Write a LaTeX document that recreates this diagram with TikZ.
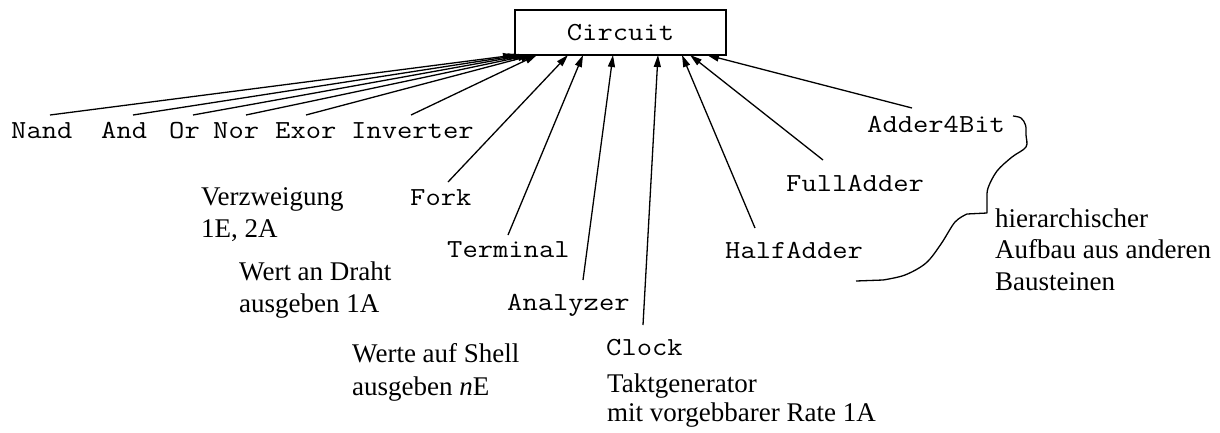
\documentclass[tikz,border=0pt]{standalone}
\usepackage{fontspec}
\setmainfont{Liberation Serif}
\setmonofont[FakeStretch=1.143]{Latin Modern Mono}
\usetikzlibrary{arrows.meta}
\begin{document}
\begin{tikzpicture}[x=1pt,y=-1pt,
  mono/.style={inner sep=0pt,anchor=base west,font=\fontsize{26}{30}\selectfont\ttfamily},
  note/.style={inner sep=0pt,anchor=base west,align=left,font=\fontsize{27}{32}\selectfont},
  conn/.style={line width=1.3pt,-{Triangle[length=12pt,width=7pt]}},
  boxstyle/.style={draw,line width=1.4pt,minimum width=211pt,minimum height=45pt,inner sep=0pt,font=\fontsize{26}{30}\selectfont\ttfamily}]
\useasboundingbox (0,0) rectangle (1220,432);
\node[boxstyle] (circuit) at (620.5,32.5) {Circuit};

\node[mono] (nand) at (11,138) {Nand};
\node[mono] (and) at (101,138) {And};
\node[mono] (or) at (169,138) {Or};
\node[mono] (nor) at (213,138) {Nor};
\node[mono] (exor) at (275,138) {Exor};
\node[mono] (inverter) at (351,138) {Inverter};
\node[mono] (fork) at (410,205) {Fork};
\node[mono] (terminal) at (447,257) {Terminal};
\node[mono] (analyzer) at (507,310) {Analyzer};
\node[mono] (clock) at (606,355) {Clock};
\node[mono] (halfadder) at (725,258) {HalfAdder};
\node[mono] (fulladder) at (786,191) {FullAdder};
\node[mono] (adder4bit) at (867,132) {Adder4Bit};

% multi-line notes: anchored at the baseline of their last line
\node[note] (verzw) at (201,237) {Verzweigung\\1E, 2A};
\node[note] (draht) at (239,312) {Wert an Draht\\ausgeben 1A};
\node[note,font=\fontsize{27}{33}\selectfont] (shell) at (352,395) {Werte auf Shell\\ausgeben \textit{n}E};
\node[note,font=\fontsize{27}{29}\selectfont] (takt) at (607,421) {Taktgenerator\\mit vorgebbarer Rate 1A};
\node[note,font=\fontsize{27}{31.5}\selectfont] (hier) at (995,290) {hierarchischer\\Aufbau aus anderen\\Bausteinen};

% tails
\coordinate (tnand) at (50,115);
\coordinate (tand) at (133,115);
\coordinate (tor) at (193,115);
\coordinate (tnor) at (246,115);
\coordinate (texor) at (306,115);
\coordinate (tinv) at (411,115);
\coordinate (tfork) at (448,182);
\coordinate (tterm) at (508,235);
\coordinate (tanal) at (583,280);
\coordinate (tclock) at (643,325);
\coordinate (thalf) at (755,228);
\coordinate (tfull) at (823,160);
\coordinate (tadd4) at (912,108);
% tips
\coordinate (pnand) at (515,55);
\coordinate (pand) at (520,55);
\coordinate (por) at (525,55);
\coordinate (pnor) at (530,55);
\coordinate (pexor) at (533,55);
\coordinate (pinv) at (537,55);
\coordinate (pfork) at (568,55);
\coordinate (pterm) at (583,55);
\coordinate (panal) at (613,55);
\coordinate (pclock) at (658,55);
\coordinate (phalf) at (682,55);
\coordinate (pfull) at (690,55);
\coordinate (padd4) at (707,55);

\draw[conn] (tnand) -- (pnand);
\draw[conn] (tand) -- (pand);
\draw[conn] (tor) -- (por);
\draw[conn] (tnor) -- (pnor);
\draw[conn] (texor) -- (pexor);
\draw[conn] (tinv) -- (pinv);
\draw[conn] (tfork) -- (pfork);
\draw[conn] (tterm) -- (pterm);
\draw[conn] (tanal) -- (panal);
\draw[conn] (tclock) -- (pclock);
\draw[conn] (thalf) -- (phalf);
\draw[conn] (tfull) -- (pfull);
\draw[conn] (tadd4) -- (padd4);

% brace-like squiggle
\draw[line width=1.3pt,line join=round] plot[smooth,tension=0.55] coordinates {
 (1013,116) (1021,118) (1025.5,125) (1026,135) (1026,147) (1012,157) (997,171) (988,188) (987,200) (987,213)}
 -- (967,214) plot[smooth,tension=0.55] coordinates {(967,214) (955,222) (941,244) (926,263) (905,275) (883,280)} -- (856,281);
\end{tikzpicture}
\end{document}
